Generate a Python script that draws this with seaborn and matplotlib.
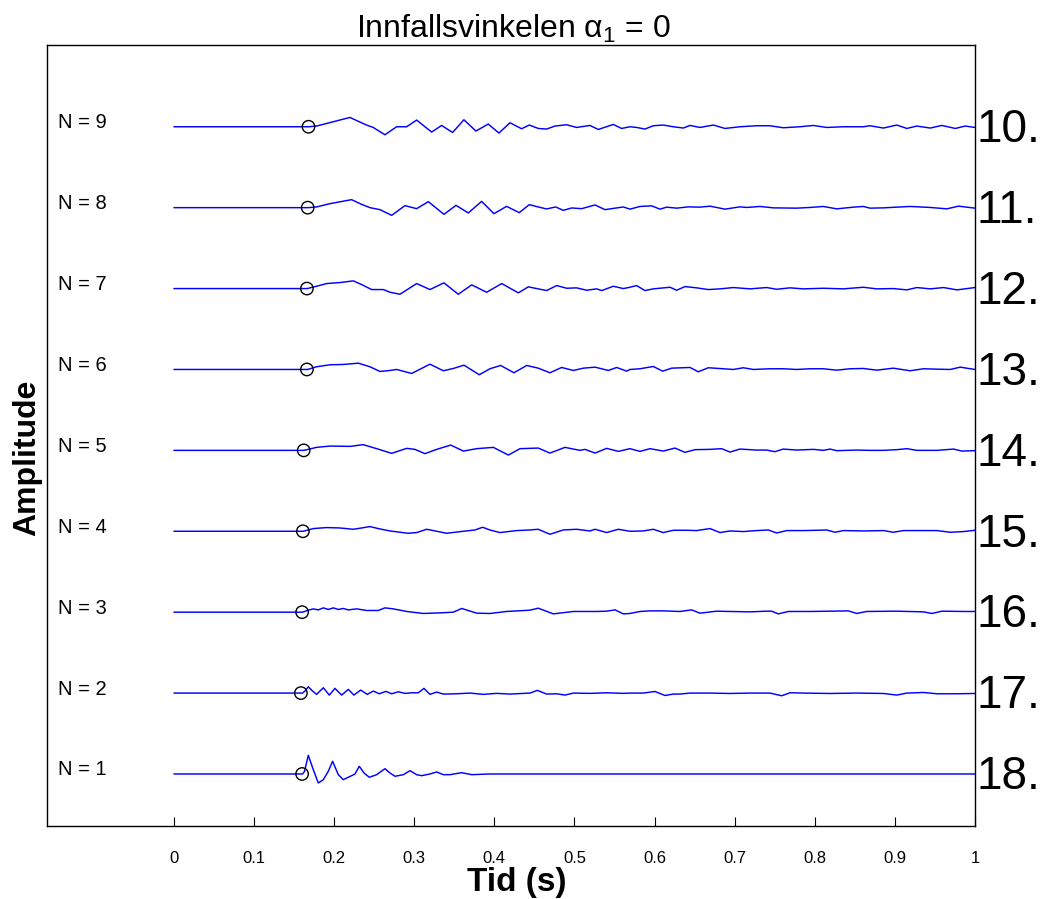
import numpy as np
import pandas as pd
import matplotlib
matplotlib.use("Agg")
import matplotlib.pyplot as plt
import seaborn as sns

# ---- data: (time [s], amplitude [arb. units]) ----
trace_1 = [(0.0, 0), (0.1448, 0), (0.1606, 0), (0.1631, 2.7), (0.1677, 18.7), (0.1740, 4.3),
           (0.1802, -9), (0.1865, -5.7), (0.1927, 2.7), (0.1981, 12.7), (0.2052, -0.7),
           (0.2114, -5.7), (0.2218, -1.7), (0.2260, 0), (0.2314, 7.7), (0.2373, 1),
           (0.2439, -3.3), (0.2531, -0.7), (0.2634, 5.3), (0.2697, 1), (0.2760, -2.3),
           (0.2864, -0.7), (0.2947, 3.3), (0.3030, -0.7), (0.3093, -1.7), (0.3196, 0),
           (0.3280, 2), (0.3363, -0.7), (0.3446, -0.7), (0.3592, 1.3), (0.3717, -0.7),
           (0.3945, 0), (1.0, 0)]

trace_2 = [(0.0, 0), (0.1448, 0), (0.1606, 0), (0.1636, 2), (0.1677, 6.3), (0.1731, 2),
           (0.1781, -1.3), (0.1865, 5.3), (0.1940, -2), (0.2010, 4.7), (0.2094, -2),
           (0.2177, 3.7), (0.2247, -2), (0.2331, 3), (0.2414, -1.3), (0.2489, 2),
           (0.2564, -0.7), (0.2647, 1.7), (0.2718, -0.7), (0.2801, 1.3), (0.2884, -0.3),
           (0.2968, 0.3), (0.3051, 0.3), (0.3121, 4.7), (0.3196, -1.3), (0.3280, 1),
           (0.3363, -1), (0.3529, -0.7), (0.3696, 0), (0.3862, -1.3), (0.4028, -0.3),
           (0.4195, -1), (0.4445, 0), (0.4536, 2.7), (0.4653, -1), (0.4778, -0.7),
           (0.4882, -2), (0.4986, 0), (0.5193, -0.3), (0.5402, 0.3), (0.5610, -0.3),
           (0.5693, 0), (0.5859, 0), (0.6005, 1.6), (0.6130, -2.4), (0.6234, -1),
           (0.6317, -1), (0.6442, 0), (0.6692, 0), (0.6942, -0.4), (0.7191, 0),
           (0.7441, 0), (0.7587, -2.7), (0.7691, 0.3), (0.7857, 0), (0.8190, -0.4),
           (0.8524, 0), (0.8857, -0.4), (0.9024, -2), (0.9149, 0), (0.9357, 0.6),
           (0.9524, -0.7), (0.9774, -0.7), (1.0, -0.4)]

trace_3 = [(0.0, 0), (0.1448, 0), (0.1606, 0), (0.1677, 2), (0.1740, 3.3), (0.1802, 2.3),
           (0.1865, 4.3), (0.1927, 2.7), (0.1990, 4.3), (0.2052, 2.7), (0.2114, 3.7),
           (0.2177, 2.3), (0.2281, 3.3), (0.2406, 1.7), (0.2551, 1.7), (0.2634, 4.3),
           (0.2739, 3.3), (0.2905, 0.7), (0.3113, -1.3), (0.3321, -0.7), (0.3488, 0),
           (0.3592, 3.7), (0.3780, -1), (0.3945, -1.3), (0.4153, 0.7), (0.4445, 2),
           (0.4548, 4), (0.4736, -1.7), (0.4986, 0.7), (0.5277, 0.7), (0.5402, 1),
           (0.5506, 2.3), (0.5610, -1.7), (0.5693, -1.3), (0.5818, 0.7), (0.5943, 1.3),
           (0.6109, 1.3), (0.6317, 0.7), (0.6463, 2.3), (0.6567, -1), (0.6775, 1),
           (0.6942, 0.7), (0.7191, 0.3), (0.7399, 1), (0.7462, 1), (0.7545, -1.7),
           (0.7670, 0.7), (0.7940, 0.7), (0.8190, 1), (0.8419, 1.3), (0.8524, -1.3),
           (0.8648, 0.7), (0.9024, 1), (0.9357, 0.3), (0.9462, -1.3), (0.9587, 1),
           (0.9857, 0.7), (1.0, 0.7)]

trace_4 = [(0.0, 0), (0.1448, 0), (0.1615, 0), (0.1740, 2.7), (0.1906, 3.7), (0.2072, 3.3),
           (0.2239, 2), (0.2343, 3.3), (0.2447, 4.7), (0.2551, 2.7), (0.2697, 0.3),
           (0.2926, -2), (0.3030, -1.3), (0.3155, 2), (0.3280, 0), (0.3404, -2),
           (0.3613, 0), (0.3758, 1.3), (0.3854, 4), (0.3945, 1.3), (0.4070, -1.3),
           (0.4278, 0.7), (0.4445, 1.3), (0.4548, 2), (0.4694, -3), (0.4861, 1.3),
           (0.5027, 2), (0.5193, 0.3), (0.5257, 2), (0.5402, -1.3), (0.5548, 2),
           (0.5693, 0), (0.5859, 0.3), (0.5984, 2), (0.6109, -1.3), (0.6234, 1),
           (0.6401, 1), (0.6526, 0.7), (0.6692, 2.7), (0.6817, -1.3), (0.6942, 0.3),
           (0.7108, -0.3), (0.7274, 0.7), (0.7420, 1.3), (0.7524, -1.7), (0.7649, 0.7),
           (0.7857, 0.7), (0.8024, 1), (0.8149, 1.3), (0.8253, -1), (0.8357, 0.7),
           (0.8607, 0.3), (0.8857, 0.7), (0.8981, -1), (0.9107, 0.7), (0.9315, 0.7),
           (0.9524, 0.7), (0.9691, -1), (0.9857, -0.3), (1.0, 1)]

trace_5 = [(0.0, 0), (0.1448, 0), (0.1623, 0), (0.1780, 3), (0.1948, 4.3), (0.2197, 4),
           (0.2364, 5.7), (0.2531, 1.7), (0.2718, -3), (0.2905, 2), (0.3009, 1),
           (0.3134, -3.3), (0.3280, 1), (0.3455, 5.3), (0.3613, -0.7), (0.3780, 1.7),
           (0.3988, 3), (0.4175, -4.7), (0.4321, 1.7), (0.4548, 2.3), (0.4694, -2.7),
           (0.4882, 3), (0.5069, 0), (0.5132, 1), (0.5257, -2.7), (0.5402, 2),
           (0.5548, -1), (0.5693, 1.7), (0.5818, -1), (0.5943, 1.7), (0.6109, -0.7),
           (0.6255, 2.3), (0.6380, -2), (0.6505, 0.7), (0.6692, 1), (0.6838, 1.7),
           (0.6942, -1.7), (0.7066, 1.3), (0.7274, 0.3), (0.7399, 0.3), (0.7503, -1.3),
           (0.7607, 1.3), (0.7774, 0.3), (0.7982, 1), (0.8107, 0), (0.8190, 1.3),
           (0.8274, -0.3), (0.8524, 0.3), (0.8690, 0), (0.8857, 0), (0.9024, 0.7),
           (0.9149, 1.7), (0.9274, 0), (0.9524, 0), (0.9733, 1.3), (0.9837, -0.7),
           (1.0, -0.3)]

trace_6 = [(0.0, 0), (0.1448, 0), (0.1669, 0), (0.1780, 2.7), (0.1948, 4.7), (0.2114, 5),
           (0.2302, 6.3), (0.2447, 2.7), (0.2572, -2), (0.2697, -1), (0.2780, 0),
           (0.2968, -4), (0.3196, 5.3), (0.3363, -1.3), (0.3488, 1), (0.3621, 4.3),
           (0.3812, -5.3), (0.3945, 0.7), (0.4078, 4), (0.4245, -3.3), (0.4404, 4),
           (0.4548, 1.3), (0.4694, -3.3), (0.4840, 2), (0.4986, -1), (0.5111, 1.3),
           (0.5257, 2.3), (0.5423, -1), (0.5527, 2), (0.5652, -1.7), (0.5693, 0),
           (0.5818, 0.7), (0.5984, 3), (0.6101, -1.7), (0.6213, 1.3), (0.6442, 2),
           (0.6546, -2.3), (0.6671, 1.7), (0.6858, 0.7), (0.6983, 0), (0.7108, 1.7),
           (0.7233, 0), (0.7441, 0.7), (0.7607, 0.7), (0.7774, 0), (0.7940, 0.7),
           (0.8107, 0.7), (0.8274, -0.7), (0.8440, 0.7), (0.8607, 1), (0.8773, -0.7),
           (0.8981, 1.3), (0.9190, -1.3), (0.9357, 0.7), (0.9524, 0.3), (0.9691, 0),
           (0.9816, 2.3), (1.0, 0)]

trace_7 = [(0.0, 0), (0.1448, 0), (0.1665, 0), (0.1780, 2.3), (0.1906, 5), (0.2072, 6),
           (0.2239, 7.7), (0.2343, 4), (0.2468, -1), (0.2614, -1), (0.2697, -3.7),
           (0.2822, -5.7), (0.3030, 5), (0.3196, -1), (0.3371, 5.7), (0.3550, -5.7),
           (0.3717, 3.7), (0.3904, -3.7), (0.4092, 5), (0.4300, -4.3), (0.4424, 1.7),
           (0.4528, 0), (0.4653, -2), (0.4778, 3), (0.4903, 0.3), (0.5027, 0.7),
           (0.5152, -1.7), (0.5277, -0.3), (0.5340, -2), (0.5485, 2.3), (0.5610, 0),
           (0.5693, 1.3), (0.5776, 3), (0.5880, -2), (0.5984, -0.3), (0.6193, 1.3),
           (0.6276, -1.7), (0.6380, 2), (0.6526, 0.7), (0.6671, -1), (0.6817, -0.3),
           (0.6983, 1), (0.7191, -0.3), (0.7399, 1), (0.7524, -0.7), (0.7691, 0.7),
           (0.7857, -0.3), (0.8107, 0.3), (0.8357, -0.3), (0.8607, 1.3), (0.8773, -0.3),
           (0.8981, 0), (0.9149, -1.3), (0.9274, 1), (0.9441, -0.3), (0.9608, 1),
           (0.9775, -1.3), (1.0, 1)]

trace_8 = [(0.0, 0), (0.1448, 0), (0.1677, 0), (0.1780, 0.7), (0.1948, 4), (0.2218, 8),
           (0.2343, 3.3), (0.2447, 0), (0.2572, -2), (0.2718, -7.7), (0.2884, 2),
           (0.3030, -1), (0.3176, 6), (0.3371, -6.7), (0.3521, 2.3), (0.3675, -5.3),
           (0.3841, 6.3), (0.3995, -6), (0.4153, 1.3), (0.4311, -5), (0.4436, 3),
           (0.4548, 0.7), (0.4653, -1.3), (0.4765, 0.7), (0.4861, -2.7), (0.4965, -0.3),
           (0.5090, -1), (0.5257, 2.7), (0.5381, -2), (0.5610, 0.7), (0.5693, -1.5),
           (0.5818, 1.2), (0.5964, 1.8), (0.6068, -1.5), (0.6151, 0.5), (0.6276, -0.5),
           (0.6422, 0.8), (0.6567, 0.5), (0.6692, 1.5), (0.6879, -1.5), (0.7066, 0.8),
           (0.7150, 0.2), (0.7316, 1.2), (0.7483, -0.2), (0.7774, -0.5), (0.7940, 0.2),
           (0.8107, 1.2), (0.8274, -1.2), (0.8482, 0.5), (0.8607, 1.2), (0.8690, -0.5),
           (0.8857, -0.2), (0.9024, 0.5), (0.9190, 1.2), (0.9441, 0.2), (0.9649, -1.2),
           (0.9795, 1.5), (1.0, -0.5)]

trace_9 = [(0.0, 0), (0.1448, 0), (0.1685, 0), (0.1780, 0.7), (0.2197, 9.3), (0.2405, 1.7),
           (0.2488, -0.7), (0.2634, -8), (0.2780, 0), (0.2905, 0), (0.3030, 6.7),
           (0.3217, -5.3), (0.3342, 1.3), (0.3479, -5.7), (0.3620, 7), (0.3770, -4.3),
           (0.3924, 2.7), (0.4057, -6.3), (0.4195, 4), (0.4340, -2), (0.4436, 1.7),
           (0.4548, -1.7), (0.4653, -2.3), (0.4757, 0.7), (0.4902, 2), (0.5027, -0.7),
           (0.5193, 1.3), (0.5298, -2.7), (0.5485, 2.3), (0.5589, -1.7), (0.5693, 0),
           (0.5776, -0.7), (0.5880, -2.3), (0.5984, 1), (0.6109, 1.7), (0.6234, 0),
           (0.6359, -1.3), (0.6442, 1.3), (0.6567, -0.7), (0.6733, 1.7), (0.6879, -1.7),
           (0.7066, 0), (0.7274, 1), (0.7441, 1), (0.7607, -1), (0.7815, 0),
           (0.7982, 1.3), (0.8149, -0.7), (0.8357, 0), (0.8607, 0), (0.8690, 1),
           (0.8857, -1.3), (0.9024, 1.7), (0.9149, -1.7), (0.9274, 0.7), (0.9441, -1.3),
           (0.9587, 1.3), (0.9754, -1.7), (0.9879, 0.7), (1.0, -0.7)]

trace_numbers = [1, 2, 3, 4, 5, 6, 7, 8, 9]
arrival_times = [0.160, 0.1585, 0.160, 0.161, 0.162, 0.166, 0.166, 0.167, 0.168]
right_labels = ["18.", "17.", "16.", "15.", "14.", "13.", "12.", "11.", "10."]
row_labels = ["N = 1", "N = 2", "N = 3", "N = 4", "N = 5", "N = 6", "N = 7", "N = 8", "N = 9"]
x_ticks = [0, 0.1, 0.2, 0.3, 0.4, 0.5, 0.6, 0.7, 0.8, 0.9, 1]
x_ticklabels = ["0", "0.1", "0.2", "0.3", "0.4", "0.5", "0.6", "0.7", "0.8", "0.9", "1"]

traces = [trace_1, trace_2, trace_3, trace_4, trace_5, trace_6, trace_7, trace_8, trace_9]
AMP_PER_ROW = 81.0  # amplitude units per trace spacing

rows = []
for n, pts in zip(trace_numbers, traces):
    for t, a in pts:
        rows.append({"N": n, "t": t, "y": n + a / AMP_PER_ROW})
df = pd.DataFrame(rows)
circ = pd.DataFrame({"N": trace_numbers, "t": arrival_times,
                     "y": [float(n) for n in trace_numbers]})

sns.set_style("white")
plt.rcParams["font.family"] = ["Liberation Sans", "DejaVu Sans"]
plt.rcParams["mathtext.fontset"] = "custom"
plt.rcParams["mathtext.rm"] = "Liberation Sans"
plt.rcParams["mathtext.it"] = "Liberation Sans"
plt.rcParams["text.color"] = "black"
plt.rcParams["axes.labelcolor"] = "black"
plt.rcParams["xtick.color"] = "black"
plt.rcParams["xtick.labelcolor"] = "black"

fig = plt.figure(figsize=(10.53, 8.99), dpi=100)
ax = fig.add_axes([0.0446, 0.0812, 0.8813, 0.8687])

sns.lineplot(data=df, x="t", y="y", units="N", estimator=None, sort=False,
             color="#0000ff", linewidth=1.05, ax=ax, legend=False)
sns.scatterplot(data=circ, x="t", y="y", marker="o", s=80, facecolors="none",
                edgecolor="black", linewidth=1.0, ax=ax, legend=False, zorder=3)

ax.set_xlim(-0.1585, 1.0)
ax.set_ylim(0.357, 10.01)
ax.set_xticks(x_ticks)
ax.set_xticklabels(x_ticklabels)
ax.set_yticks([])
ax.tick_params(axis="x", direction="in", length=6.5, width=0.8, top=False,
               bottom=True, labelsize=12, pad=18, colors="black")
for sp in ax.spines.values():
    sp.set_visible(True)
    sp.set_color("black")
    sp.set_linewidth(1.0)

for n, lab, rl in zip(trace_numbers, row_labels, right_labels):
    ax.text(-0.145, n + 0.05, lab, fontsize=14.5, ha="left", va="center")
    ax.text(1.002, n - 0.04, rl, fontsize=33, ha="left", va="center", clip_on=False)

ax.set_xlabel("Tid (s)", fontsize=24, fontweight="bold", va="center")
ax.xaxis.set_label_coords(0.506, -0.072)
ax.set_ylabel("Amplitude", fontsize=23, fontweight="bold", va="center")
ax.yaxis.set_label_coords(-0.0216, 0.471)
ax.text(0.503, 1.02, r"Innfallsvinkelen α$_1$ = 0", fontsize=23, ha="center",
        va="center", transform=ax.transAxes)

fig.savefig("out.png", dpi=100)
